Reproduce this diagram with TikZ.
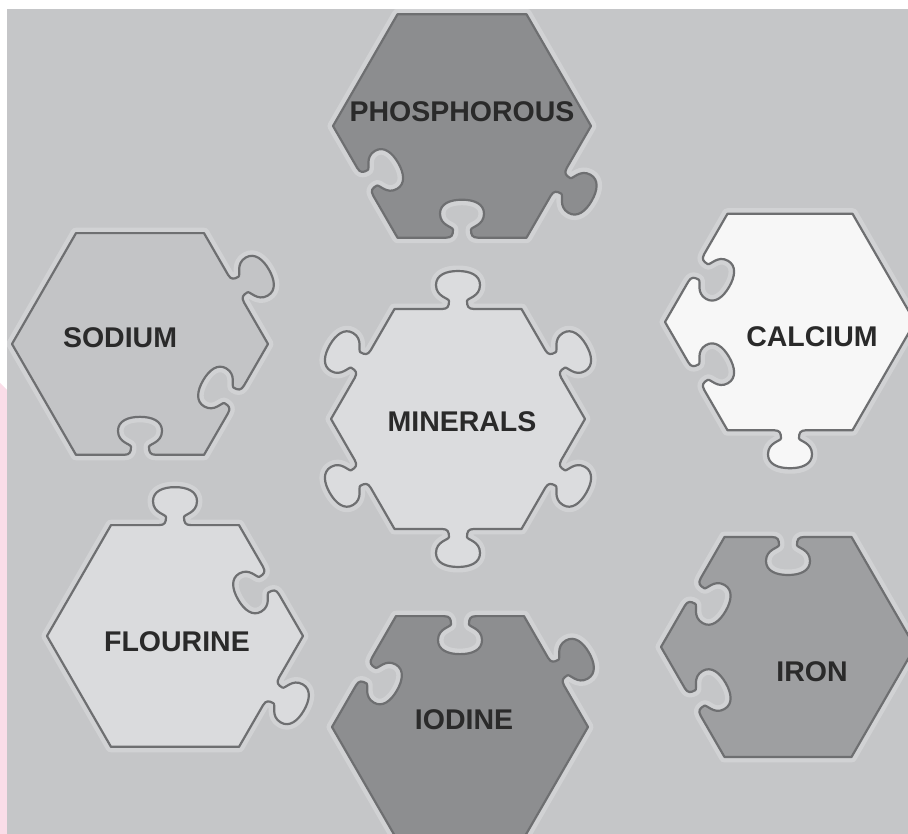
\documentclass[tikz,border=0pt]{standalone}
\usepackage{fontspec}
\newfontfamily\piecefont{Liberation Sans}
\definecolor{cbg}{HTML}{C5C6C8}
\definecolor{cpink}{HTML}{FADDE8}
\definecolor{cedge}{HTML}{6E6F71}
\definecolor{ctext}{HTML}{2A2A2A}
\definecolor{cmin}{HTML}{DBDCDE}
\definecolor{cphos}{HTML}{8C8D8F}
\definecolor{csod}{HTML}{C3C4C6}
\definecolor{ccal}{HTML}{F7F7F7}
\definecolor{cflo}{HTML}{DADBDD}
\definecolor{ciod}{HTML}{8D8E90}
\definecolor{ciron}{HTML}{9E9FA1}
\tikzset{
  every picture/.style={x=1pt, y=1pt, line width=2.2pt},
  piece/.style={draw=cedge, fill=#1, line join=round,
    preaction={draw=white, draw opacity=0.22, line width=11pt, line join=round, line cap=round}},
  piece/.default=cbg,
  lbl/.style={font=\piecefont\bfseries\fontsize{28.5}{30}\selectfont, text=ctext, inner sep=0pt},
}
% one tab, drawn right to left along an edge, pointing up
\newcommand{\knobpath}{-- (16,0) .. controls (10,0) and (9,3) .. (9,8)
  .. controls (9,11) and (22,12) .. (22,24) .. controls (22,34) and (12,38) .. (0,38)
  .. controls (-12,38) and (-22,34) .. (-22,24) .. controls (-22,12) and (-9,11) .. (-9,8)
  .. controls (-9,3) and (-10,0) .. (-16,0)}
% hexagon piece: centre x, centre y, radius, colour, edges k/s (1 tab, -1 blank, 0 flat)
\newcommand{\jigsaw}[5]{%
  \filldraw[piece=#4] (#1+#3,#2)
  \foreach \k/\s in {#5} {
    {[shift={(#1,#2)}, rotate=60*\k-60, shift={(0,0.866*#3)}]
      {[xscale=(\s)*(\s), yscale=\s] \knobpath} -- (-#3/2,0)}
  } -- cycle;
}

\begin{document}
\begin{tikzpicture}
  \useasboundingbox (0,0) rectangle (908,834);
  % margins: white band on top, pink strip on the left
  \fill[cpink] (0,0) -- (0,451) -- (7,444) -- (7,0) -- cycle;
  \fill[cbg] (7,0) rectangle (908,825);
  \begin{scope}
    \clip (7,0) rectangle (908,825);
    % centre piece, tabs on all sides
    \jigsaw{458}{415}{127}{cmin}{0/1,1/1,2/1,3/1,4/1,5/1}
    % the six pieces round it
    \jigsaw{462}{708}{129}{cphos}{0/0,1/0,2/0,3/-1,4/-1,5/1}
    \jigsaw{140}{490}{128}{csod}{0/1,1/0,2/0,3/0,4/-1,5/-1}
    \jigsaw{790}{512}{125}{ccal}{0/0,1/0,2/-1,3/-1,4/1,5/0}
    \jigsaw{175}{198}{128}{cflo}{0/-1,1/1,2/0,3/0,4/0,5/1}
    \jigsaw{460}{107}{128}{ciod}{0/1,1/-1,2/-1,3/0,4/0,5/0}
    \jigsaw{788}{187}{127}{ciron}{0/0,1/-1,2/-1,3/-1,4/0,5/0}
  \end{scope}
  % labels
  \foreach \n/\x/\y/\t in {minerals/462/412/MINERALS, phos/462/722/PHOSPHOROUS,
      sodium/120/496/SODIUM, calcium/812/497/CALCIUM, flourine/177/192/FLOURINE,
      iodine/464/114/IODINE, iron/812/162/IRON}
    \node[lbl] (\n) at (\x,\y) {\t};
\end{tikzpicture}
\end{document}
